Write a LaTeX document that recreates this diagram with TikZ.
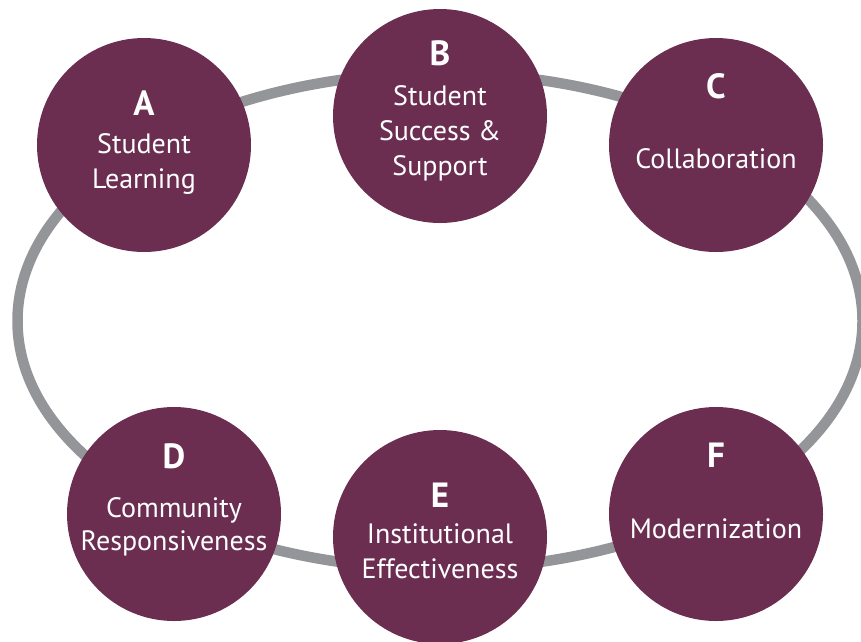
\documentclass[tikz,border=0pt]{standalone}
\usepackage{fontspec}
\setmainfont{PT Sans}
\definecolor{maroon}{HTML}{6B2E51}
\definecolor{ringgray}{HTML}{939598}
\tikzset{
  bubble/.style={circle, fill=maroon, draw=none, inner sep=0pt, minimum size=214pt},
  letter/.style={anchor=base, text=white, inner sep=0pt, font=\fontsize{35}{35}\selectfont\bfseries},
  label/.style={anchor=base, text=white, inner sep=0pt, font=\fontsize{28}{28}\selectfont},
}
\begin{document}
\begin{tikzpicture}[x=1pt,y=-1pt]
\useasboundingbox (0,0) rectangle (861,641);
\clip (0,0) rectangle (861,641);
\draw[ringgray, line width=10.5pt] (440,321) ellipse [x radius=422.5, y radius=248];
\node[bubble] (cA) at (144,145) {};
\node[bubble] (cB) at (440,116) {};
\node[bubble] (cC) at (716,145) {};
\node[bubble] (cD) at (174,514) {};
\node[bubble] (cE) at (440,537) {};
\node[bubble] (cF) at (716,514) {};
% A
\node[letter] (lA) at (144,115) {A};
\node[label] (tA1) at (144,153) {Student};
\node[label] (tA2) at (144,188) {Learning};
% B
\node[letter] (lB) at (440,65) {B};
\node[label] (tB1) at (440,105) {Student};
\node[label] (tB2) at (440,140) {Success \&};
\node[label] (tB3) at (440,175) {Support};
% C
\node[letter] (lC) at (716,98) {C};
\node[label] (tC1) at (716,168) {Collaboration};
% D
\node[letter] (lD) at (174,468) {D};
\node[label] (tD1) at (174,517) {Community};
\node[label] (tD2) at (174,550) {Responsiveness};
% E
\node[letter] (lE) at (440,507) {E};
\node[label] (tE1) at (440,543) {Institutional};
\node[label] (tE2) at (440,578) {Effectiveness};
% F
\node[letter] (lF) at (716,467) {F};
\node[label] (tF1) at (716,538) {Modernization};
\end{tikzpicture}
\end{document}
